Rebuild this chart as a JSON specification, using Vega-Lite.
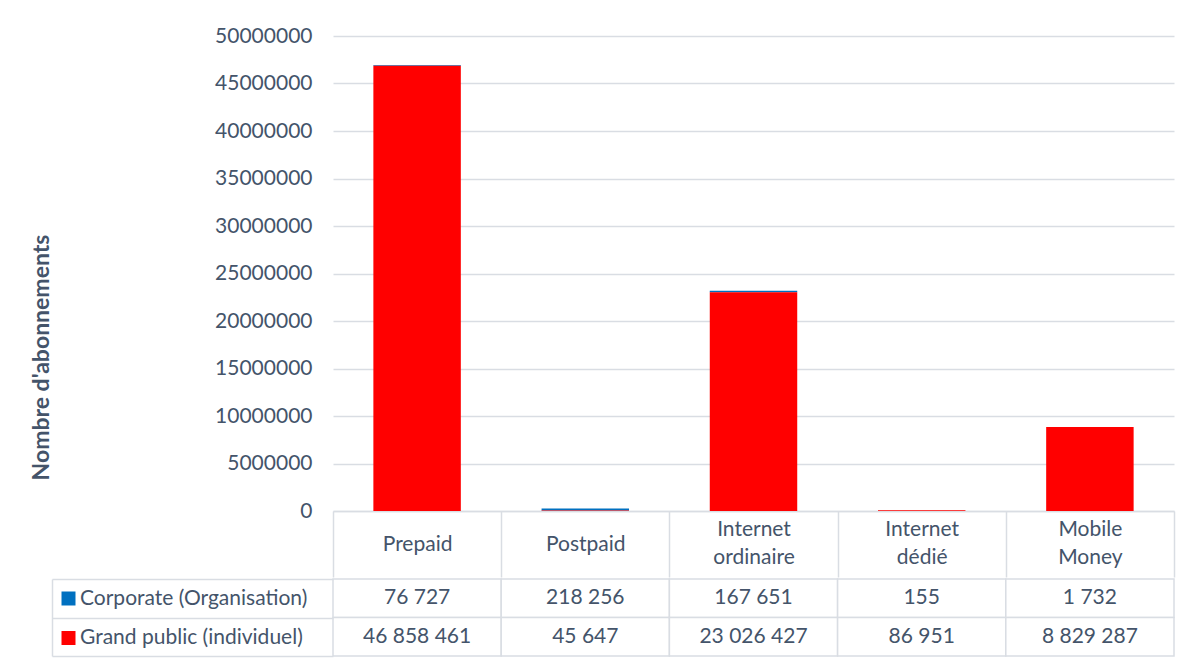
{
  "$schema": "https://vega.github.io/schema/vega-lite/v6.json",
  "padding": {"left": 30, "top": 25, "right": 5, "bottom": 5},
  "background": "white",
  "config": {
    "locale": {"number": {"decimal": ",", "thousands": " ", "grouping": [3], "currency": ["", ""]}},
    "view": {"stroke": null},
    "font": "Lato",
    "axis": {"labelFont": "Lato", "titleFont": "Lato", "labelColor": "#44546A", "titleColor": "#44546A"}
  },
  "datasets": {
    "d": [
      {"cat": "Prepaid", "series": "Corporate (Organisation)", "value": 76727},
      {"cat": "Prepaid", "series": "Grand public (individuel)", "value": 46858461},
      {"cat": "Postpaid", "series": "Corporate (Organisation)", "value": 218256},
      {"cat": "Postpaid", "series": "Grand public (individuel)", "value": 45647},
      {"cat": "Internet ordinaire", "series": "Corporate (Organisation)", "value": 167651},
      {"cat": "Internet ordinaire", "series": "Grand public (individuel)", "value": 23026427},
      {"cat": "Internet dédié", "series": "Corporate (Organisation)", "value": 155},
      {"cat": "Internet dédié", "series": "Grand public (individuel)", "value": 86951},
      {"cat": "Mobile Money", "series": "Corporate (Organisation)", "value": 1732},
      {"cat": "Mobile Money", "series": "Grand public (individuel)", "value": 8829287}
    ]
  },
  "spacing": 0,
  "resolve": {"scale": {"color": "independent"}, "legend": {"color": "independent"}},
  "vconcat": [
    {
      "width": 841,
      "height": 475,
      "data": {"name": "d"},
      "mark": {"type": "bar", "width": {"band": 0.52}},
      "encoding": {
        "x": {
          "field": "cat", "type": "nominal",
          "sort": ["Prepaid", "Postpaid", "Internet ordinaire", "Internet dédié", "Mobile Money"],
          "scale": {"paddingInner": 0, "paddingOuter": 0},
          "axis": {
            "title": null, "domain": true, "domainColor": "#D9DDE3", "domainWidth": 1.5,
            "ticks": true, "tickBand": "extent", "tickSize": 66, "tickColor": "#D9DDE3", "tickWidth": 1.5,
            "labelExpr": "split(datum.label, ' ')", "labelAngle": 0,
            "labelPadding": {"condition": {"test": "datum.value == 'Prepaid' || datum.value == 'Postpaid'", "value": -33}, "value": -48},
            "labelBaseline": "middle", "labelLineHeight": 28, "labelFontSize": 21, "grid": false
          }
        },
        "y": {
          "field": "value", "type": "quantitative", "stack": "zero",
          "scale": {"domain": [0, 50000000], "nice": false},
          "axis": {
            "values": [0, 5000000, 10000000, 15000000, 20000000, 25000000, 30000000, 35000000, 40000000, 45000000, 50000000],
            "format": "d", "grid": true, "gridColor": "#D9DDE3", "gridWidth": 1.5,
            "domain": false, "ticks": false, "labelPadding": 21, "labelFontSize": 21,
            "title": "Nombre d'abonnements", "titleFontSize": 23, "titleFontWeight": "bold",
            "titleX": -280, "titleY": 321
          }
        },
        "color": {
          "field": "series", "type": "nominal",
          "scale": {"domain": ["Corporate (Organisation)", "Grand public (individuel)"], "range": ["#0070C0", "#FF0000"]},
          "legend": null
        },
        "order": {"field": "series", "type": "nominal", "sort": "descending"}
      }
    },
    {
      "width": 841,
      "height": 77,
      "data": {"name": "d"},
      "encoding": {
        "x": {
          "field": "cat", "type": "nominal",
          "sort": ["Prepaid", "Postpaid", "Internet ordinaire", "Internet dédié", "Mobile Money"],
          "scale": {"paddingInner": 0, "paddingOuter": 0},
          "axis": null
        },
        "y": {
          "field": "series", "type": "nominal",
          "sort": ["Corporate (Organisation)", "Grand public (individuel)"],
          "scale": {"paddingInner": 0, "paddingOuter": 0},
          "axis": {
            "title": null, "labels": false, "offset": 281, "domain": true, "domainColor": "#D9DDE3", "domainWidth": 1.5,
            "ticks": true, "tickBand": "extent", "tickSize": -281, "tickColor": "#D9DDE3", "tickWidth": 1.5, "grid": false
          }
        }
      },
      "layer": [
        {"mark": {"type": "rect", "fill": "white", "stroke": "#D9DDE3", "strokeWidth": 1.5}},
        {
          "mark": {"type": "square", "opacity": 0, "size": 10},
          "encoding": {
            "color": {
              "field": "series", "type": "nominal",
              "scale": {"domain": ["Corporate (Organisation)", "Grand public (individuel)"], "range": ["#0070C0", "#FF0000"]},
              "legend": {
                "orient": "none", "legendX": -275, "legendY": 9, "title": null,
                "symbolType": "square", "symbolSize": 196, "symbolOpacity": 1, "symbolStrokeWidth": 0,
                "labelFont": "Lato", "labelFontSize": 21, "labelColor": "#44546A", "labelOffset": 1,
                "rowPadding": 17.5, "padding": 0, "labelLimit": 400
              }
            }
          }
        },
        {
          "mark": {"type": "text", "font": "Lato", "fontSize": 21, "color": "#44546A", "baseline": "middle"},
          "encoding": {"text": {"field": "value", "type": "quantitative", "format": ",d"}}
        }
      ]
    }
  ]
}
